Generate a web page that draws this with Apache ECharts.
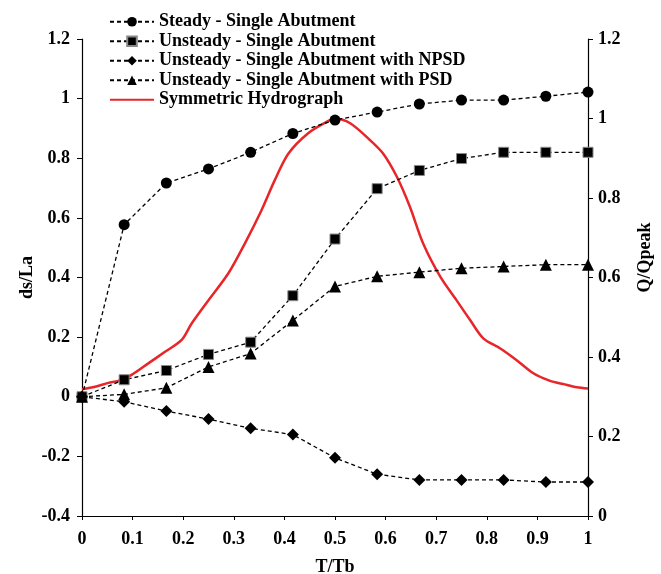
<!DOCTYPE html>
<html>
<head>
<meta charset="utf-8">
<script src="https://cdn.jsdelivr.net/npm/echarts@6/dist/echarts.min.js"></script>
<style>html,body{margin:0;padding:0;background:#fff;}#c{width:661px;height:574px;}</style>
</head>
<body>
<div id="c"></div>
<script>
// T/Tb sampling for scour series
const tValues = [0, 0.0833, 0.1667, 0.25, 0.3333, 0.4167, 0.5, 0.5833, 0.6667, 0.75, 0.8333, 0.9167, 1];
const steadySingle = [0, 0.577, 0.717, 0.764, 0.82, 0.883, 0.928, 0.955, 0.982, 0.995, 0.995, 1.008, 1.022];
const unsteadySingle = [0, 0.057, 0.088, 0.142, 0.183, 0.339, 0.529, 0.698, 0.759, 0.799, 0.82, 0.82, 0.82];
const unsteadyNPSD = [0, -0.017, -0.048, -0.075, -0.106, -0.127, -0.205, -0.26, -0.279, -0.279, -0.279, -0.286, -0.286];
const unsteadyPSD = [0, 0.008, 0.03, 0.1, 0.145, 0.256, 0.37, 0.404, 0.418, 0.431, 0.437, 0.443, 0.443];
// Hydrograph (T/Tb, Q/Qpeak)
const hydroT = [0, 0.026, 0.052, 0.072, 0.098, 0.131, 0.164, 0.197, 0.217, 0.25, 0.289, 0.322, 0.355, 0.381, 0.408, 0.447, 0.487, 0.5, 0.53, 0.569, 0.595, 0.622, 0.648, 0.674, 0.708, 0.74, 0.767, 0.793, 0.826, 0.859, 0.892, 0.925, 0.951, 0.978, 1];
const hydroQ = [0.319, 0.325, 0.335, 0.34, 0.355, 0.384, 0.413, 0.443, 0.485, 0.543, 0.61, 0.686, 0.77, 0.845, 0.912, 0.963, 0.994, 1.0, 0.988, 0.946, 0.912, 0.854, 0.778, 0.686, 0.602, 0.543, 0.493, 0.447, 0.422, 0.392, 0.359, 0.34, 0.332, 0.324, 0.321];
const xTicks = {min: 0, max: 1, interval: 0.1};
const leftTicks = {min: -0.4, max: 1.2, interval: 0.2};
const rightTicks = {min: 0, max: 1.2, interval: 0.2};
const names = ['Steady - Single Abutment', 'Unsteady - Single Abutment', 'Unsteady - Single Abutment with NPSD', 'Unsteady - Single Abutment with PSD', 'Symmetric Hydrograph'];

const font = 'Liberation Serif';
const FS = 18;
const pair = (xs, ys) => xs.map((x, i) => [x, ys[i]]);
const dashed = {color: '#000', width: 1.3, type: [4, 3]};
function scour(name, data, symbol, size, extra) {
  return Object.assign({
    name, type: 'line', yAxisIndex: 0, data: pair(tValues, data),
    symbol, symbolSize: size, showSymbol: true,
    lineStyle: dashed,
    itemStyle: {color: '#000'},
    emphasis: {disabled: true}, z: 3
  }, extra || {});
}
const txt = {fontFamily: font, fontWeight: 'bold', fontSize: FS, color: '#000'};
const chart = echarts.init(document.getElementById('c'), null, {renderer: 'canvas'});
chart.setOption({
  animation: false,
  backgroundColor: '#fff',
  textStyle: {fontFamily: font},
  grid: {left: 82, right: 73, top: 39, bottom: 58, containLabel: false, outerBoundsMode: 'none'},
  legend: {
    orient: 'vertical', left: 104, top: 7, itemWidth: 44, itemHeight: 12, itemGap: 0,
    data: names.slice(0, 4).map(n => ({name: n})).concat([{name: names[4], itemStyle: {opacity: 0}}]),
    textStyle: Object.assign({lineHeight: 19.5}, txt),
    inactiveColor: '#000'
  },
  xAxis: {
    type: 'value', min: xTicks.min, max: xTicks.max, interval: xTicks.interval,
    name: 'T/Tb', nameLocation: 'middle', nameGap: 42, nameMoveOverlap: false,
    nameTextStyle: txt,
    axisLine: {onZero: false, lineStyle: {color: '#000', width: 1.2}},
    axisTick: {show: true, length: 4, lineStyle: {color: '#000'}},
    axisLabel: Object.assign({margin: 14}, txt),
    splitLine: {show: false}
  },
  yAxis: [{
    type: 'value', min: leftTicks.min, max: leftTicks.max, interval: leftTicks.interval, position: 'left',
    name: 'ds/La', nameLocation: 'middle', nameGap: 46, nameRotate: 90, nameMoveOverlap: false,
    nameTextStyle: txt,
    axisLine: {show: true, onZero: false, lineStyle: {color: '#000', width: 1.2}},
    axisTick: {show: true, length: 5, lineStyle: {color: '#000'}},
    axisLabel: Object.assign({margin: 12}, txt),
    splitLine: {show: false}
  }, {
    type: 'value', min: rightTicks.min, max: rightTicks.max, interval: rightTicks.interval, position: 'right',
    name: 'Q/Qpeak', nameLocation: 'middle', nameGap: 48, nameRotate: 90, nameMoveOverlap: false,
    nameTextStyle: Object.assign({padding: [0, 0, 0, 40]}, txt),
    axisLine: {show: true, onZero: false, lineStyle: {color: '#000', width: 1.2}},
    axisTick: {show: true, length: 5, lineStyle: {color: '#000'}},
    axisLabel: Object.assign({margin: 10}, txt),
    splitLine: {show: false}
  }],
  series: [
    scour(names[0], steadySingle, 'circle', 11),
    scour(names[1], unsteadySingle, 'rect', 10, {itemStyle: {color: '#000', borderColor: '#888', borderWidth: 1}}),
    scour(names[2], unsteadyNPSD, 'diamond', 12),
    scour(names[3], unsteadyPSD, 'triangle', 12),
    {
      name: names[4], type: 'line', yAxisIndex: 1, data: pair(hydroT, hydroQ),
      smooth: 0.3, showSymbol: false, symbol: 'none',
      lineStyle: {color: '#e8262a', width: 2.5},
      itemStyle: {color: '#e8262a'},
      emphasis: {disabled: true}, z: 2
    }
  ]
});
</script>
</body>
</html>
